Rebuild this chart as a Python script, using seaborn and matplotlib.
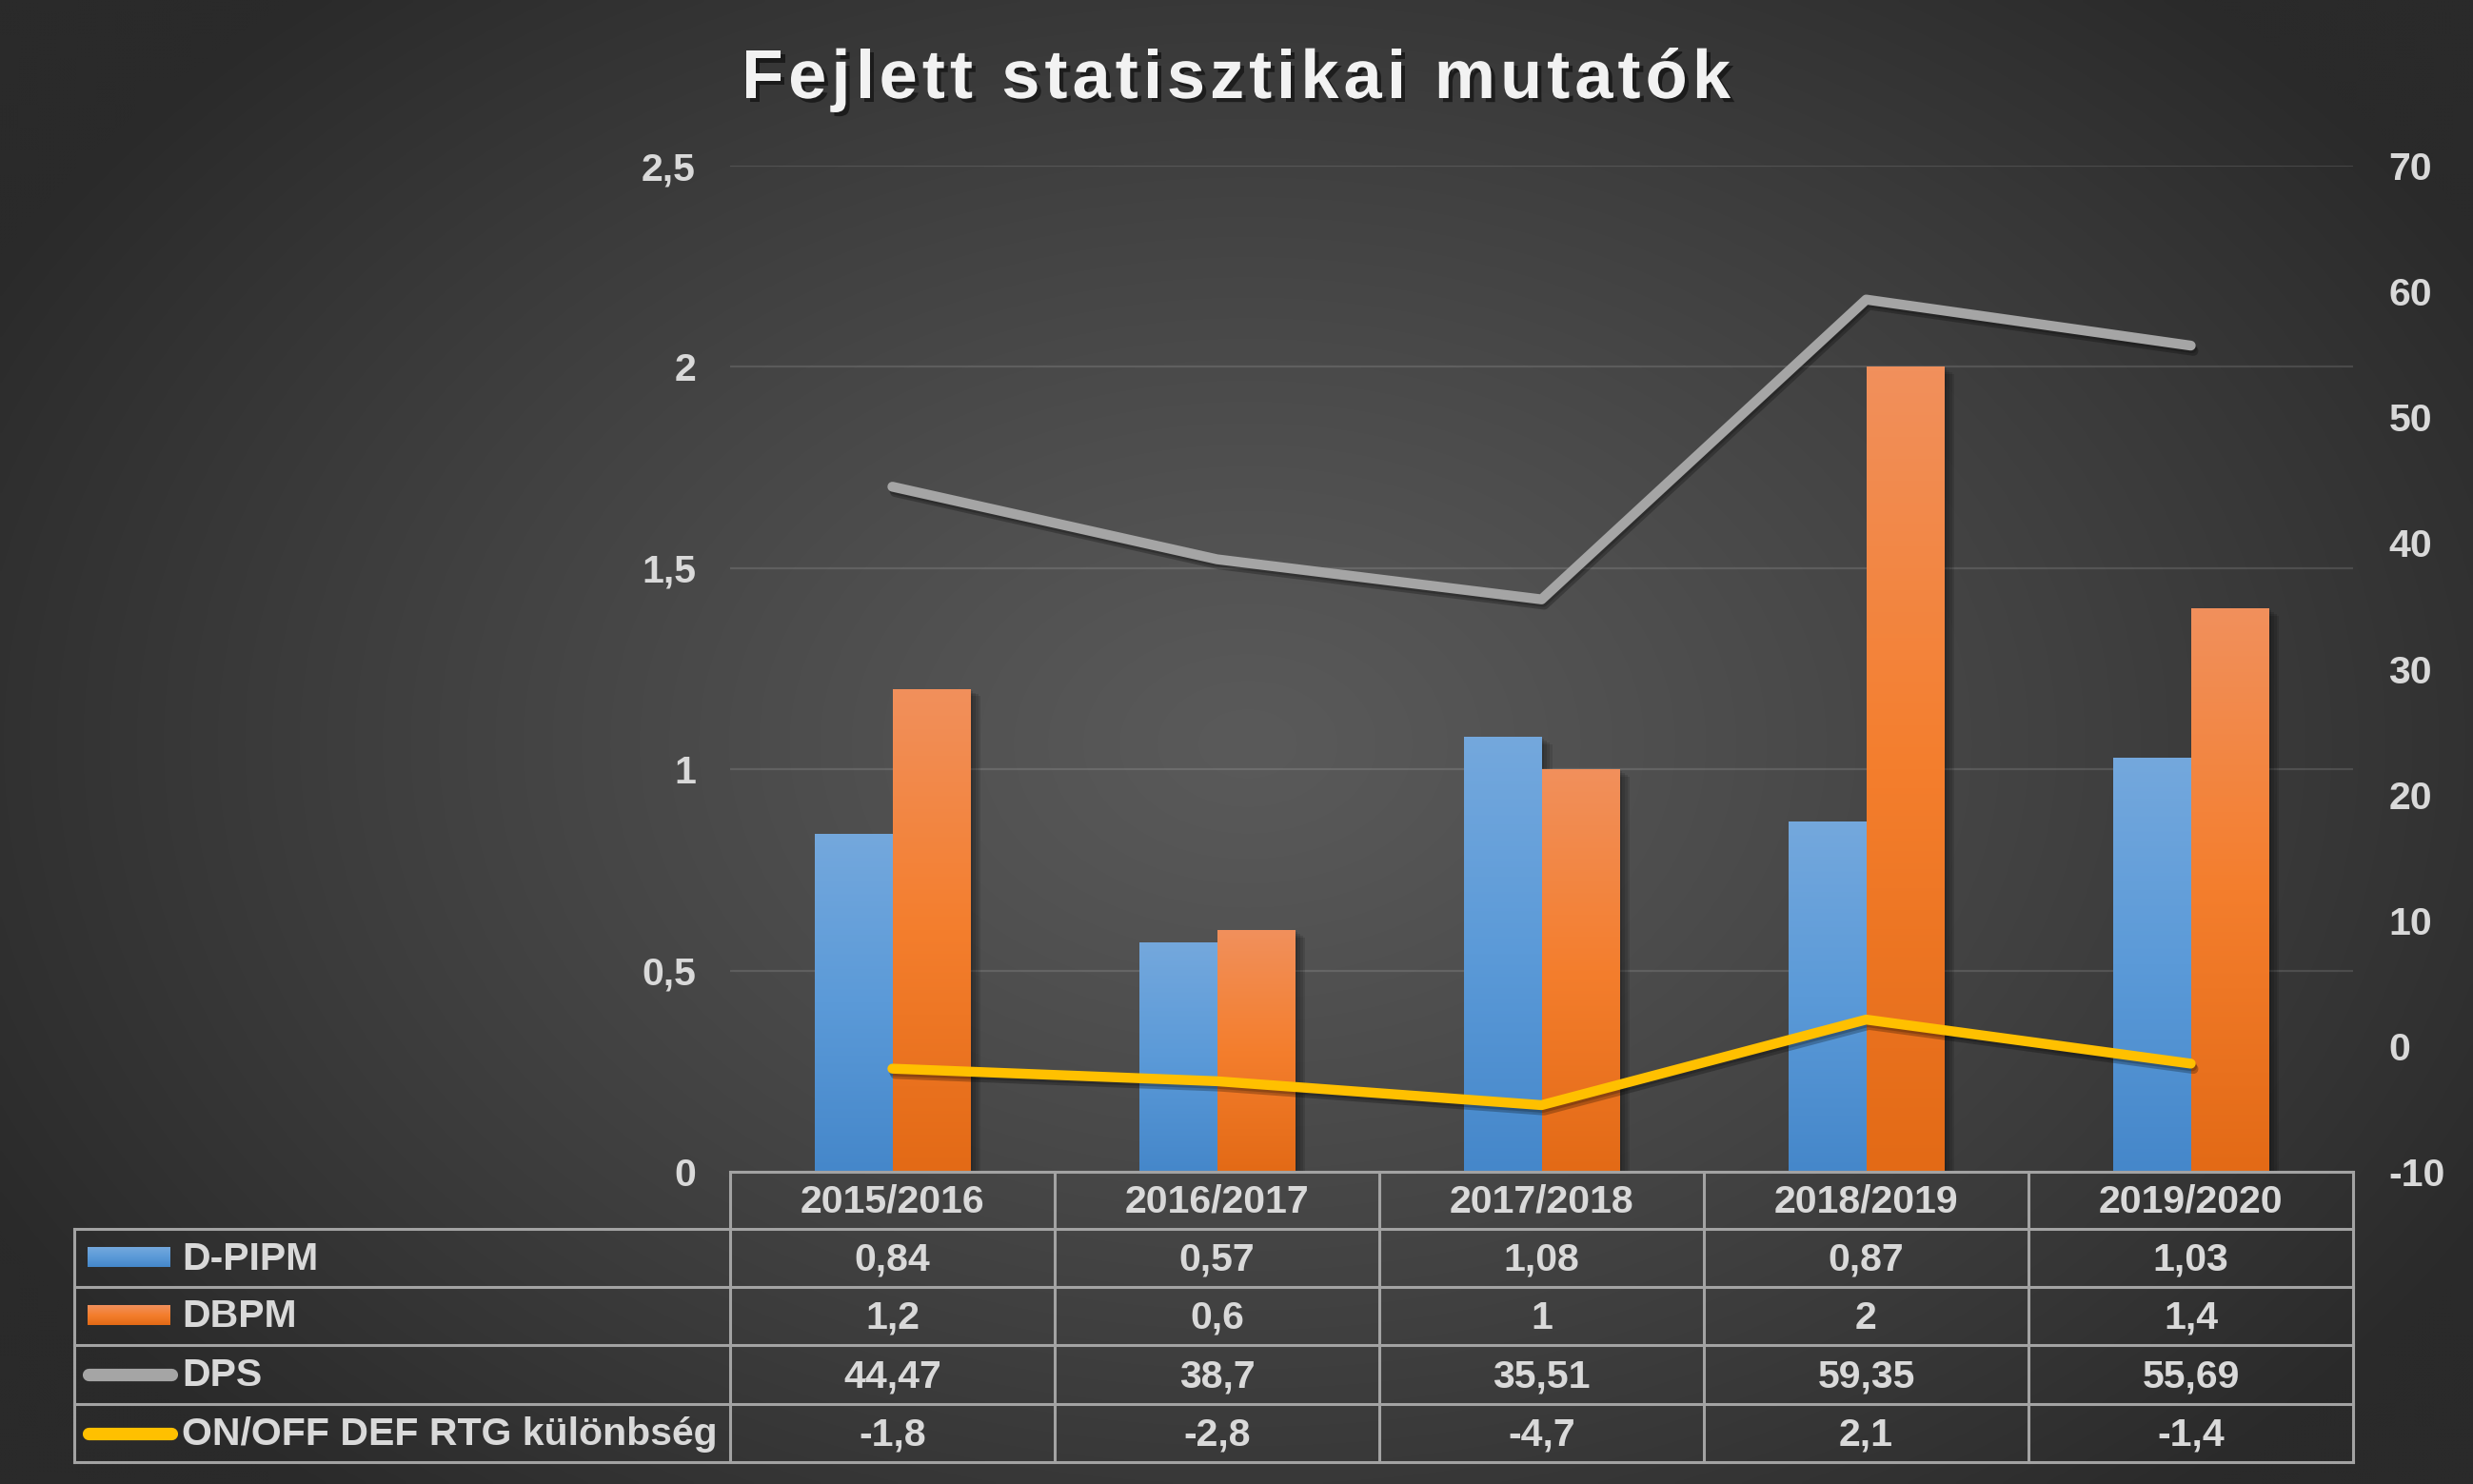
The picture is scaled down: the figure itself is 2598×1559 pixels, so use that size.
import numpy as np
import pandas as pd
import matplotlib
matplotlib.use("Agg")
import matplotlib.pyplot as plt
import matplotlib.patheffects as pe
from matplotlib.colors import LinearSegmentedColormap
from matplotlib.ticker import FuncFormatter, FixedLocator
import seaborn as sns

# ---------------- data ----------------
seasons = ["2015/2016", "2016/2017", "2017/2018", "2018/2019", "2019/2020"]
d_pipm = [0.84, 0.57, 1.08, 0.87, 1.03]
dbpm = [1.2, 0.6, 1, 2, 1.4]
dps = [44.47, 38.7, 35.51, 59.35, 55.69]
onoff = [-1.8, -2.8, -4.7, 2.1, -1.4]
series_names = ["D-PIPM", "DBPM", "DPS", "ON/OFF DEF RTG különbség"]
title_text = "Fejlett statisztikai mutatók"
left_ticks = [0, 0.5, 1, 1.5, 2, 2.5]
right_ticks = [-10, 0, 10, 20, 30, 40, 50, 60, 70]

# ---------------- style ----------------
sns.set_theme(style="white")
plt.rcParams["font.family"] = ["Liberation Sans", "DejaVu Sans"]
plt.rcParams["font.weight"] = "bold"

W, H = 2598, 1559
DPI = 100
fig = plt.figure(figsize=(W / DPI, H / DPI), dpi=DPI)

BLUE = "#5b9bd5"
ORANGE = "#ed7d31"
GRAY = "#a5a5a5"
YELLOW = "#ffc000"
TXT = "#d9d9d9"
TABLE_LINE = "#a3a3a3"
FS = 29.5

blue_cmap = LinearSegmentedColormap.from_list("b", ["#74a8dd", "#5b9ad8", "#4587ca"])
orange_cmap = LinearSegmentedColormap.from_list("o", ["#f1905c", "#f47e2d", "#e36a16"])

# ---------------- background ----------------
bg = fig.add_axes([0, 0, 1, 1], zorder=-10)
yy, xx = np.mgrid[0:H:4, 0:W:4]
r = np.sqrt(((xx - 1310) / 1500.0) ** 2 + ((yy - 780) / 1050.0) ** 2)
r = np.clip(r, 0, 1)
val = (90 - 48 * r ** 1.15) / 255.0
img = np.dstack([val, val, val])
bg.imshow(img, extent=[0, W, H, 0], aspect="auto", interpolation="bilinear")
bg.set_xlim(0, W)
bg.set_ylim(H, 0)
bg.axis("off")

# ---------------- layout ----------------
PL, PR, PT, PB = 767, 2472, 174, 1231  # plot area in px (top-left origin)
ax = fig.add_axes([PL / W, 1 - PB / H, (PR - PL) / W, (PB - PT) / H], zorder=1)
ax.patch.set_alpha(0)

pos = np.arange(len(seasons))
df = pd.DataFrame({
    "pos": np.concatenate([pos, pos]),
    "metric": [series_names[0]] * len(seasons) + [series_names[1]] * len(seasons),
    "value": d_pipm + dbpm,
})
sns.barplot(data=df, x="pos", y="value", hue="metric", palette=[BLUE, ORANGE],
            width=0.48, native_scale=True, saturation=1, errorbar=None,
            legend=False, ax=ax, zorder=2)

grad = np.linspace(0, 1, 256).reshape(-1, 1)
soft_shadow = [pe.withSimplePatchShadow(offset=(o, -0.7 * o), shadow_rgbFace="black", alpha=0.11)
               for o in (2, 4, 6, 8)]
for p in list(ax.patches):
    fc = p.get_facecolor()
    cmap = blue_cmap if fc[2] > fc[0] else orange_cmap
    x0, y0 = p.get_x(), p.get_y()
    w, h = p.get_width(), p.get_height()
    p.set_edgecolor("none")
    p.set_path_effects(soft_shadow)
    im = ax.imshow(grad, cmap=cmap, extent=[x0, x0 + w, y0, y0 + h], aspect="auto",
                   origin="upper", zorder=2.5, interpolation="bilinear")
    im.set_clip_path(p)

ax.set_xlim(-0.5, len(seasons) - 0.5)
ax.set_ylim(0, 2.5)
ax.yaxis.set_major_locator(FixedLocator(left_ticks))
ax.yaxis.set_major_formatter(FuncFormatter(lambda v, _: f"{v:g}".replace(".", ",")))
ax.set_xticks([])
ax.set_xlabel("")
ax.set_ylabel("")
ax.tick_params(axis="y", length=0, pad=26, labelsize=FS, labelcolor=TXT)
for s in ax.spines.values():
    s.set_visible(False)
ax.set_axisbelow(True)
ax.yaxis.grid(True, color="#ffffff", alpha=0.12, lw=1.6)

# ---------------- lines on secondary axis ----------------
ax2 = ax.twinx()
ax2.patch.set_alpha(0)
sns.lineplot(x=pos, y=dps, ax=ax2, color=GRAY, lw=7.5, legend=False)
sns.lineplot(x=pos, y=onoff, ax=ax2, color=YELLOW, lw=7.5, legend=False)
for ln in ax2.lines:
    ln.set_solid_capstyle("round")
    ln.set_solid_joinstyle("round")
    ln.set_path_effects([pe.SimpleLineShadow(offset=(2, -4), shadow_color="black", alpha=0.25),
                         pe.SimpleLineShadow(offset=(1, -2), shadow_color="black", alpha=0.2),
                         pe.Normal()])
ax2.set_ylim(-10, 70)
ax2.yaxis.set_major_locator(FixedLocator(right_ticks))
ax2.yaxis.set_major_formatter(FuncFormatter(lambda v, _: f"{v:g}"))
ax2.tick_params(axis="y", length=0, pad=27, labelsize=FS, labelcolor=TXT)
for t in ax2.get_yticklabels():
    t.set_horizontalalignment("left")
ax2.set_xlim(-0.5, len(seasons) - 0.5)
ax2.set_ylabel("")
ax2.grid(False)
for s in ax2.spines.values():
    s.set_visible(False)

# ---------------- data table ----------------
ov = fig.add_axes([0, 0, 1, 1], zorder=5)
ov.patch.set_alpha(0)
ov.set_xlim(0, W)
ov.set_ylim(H, 0)
ov.axis("off")

TL = 78
rows_y = [1231, 1291, 1352, 1413, 1475, 1536]
ncol = len(seasons)
colw = (PR - PL) / ncol
col_x = [PL + i * colw for i in range(ncol + 1)]
lkw = dict(color=TABLE_LINE, lw=2.2, solid_capstyle="projecting")
ov.plot([PL, PR], [rows_y[0], rows_y[0]], **lkw)
for yv in rows_y[1:]:
    ov.plot([TL, PR], [yv, yv], **lkw)
for xv in col_x:
    ov.plot([xv, xv], [rows_y[0], rows_y[-1]], **lkw)
ov.plot([TL, TL], [rows_y[1], rows_y[-1]], **lkw)

def fmt(v):
    return f"{v:g}".replace(".", ",")

tkw = dict(fontsize=FS, color=TXT, fontweight="bold", ha="center", va="baseline")
for i, s in enumerate(seasons):
    cx = (col_x[i] + col_x[i + 1]) / 2
    ov.text(cx, (rows_y[0] + rows_y[1]) / 2 + 13, s, **tkw)
    for j, ser in enumerate([d_pipm, dbpm, dps, onoff]):
        ov.text(cx, (rows_y[j + 1] + rows_y[j + 2]) / 2 + 13, fmt(ser[i]), **tkw)

# legend keys + labels
small_grad = np.linspace(0, 1, 64).reshape(-1, 1)
for j, cmap in enumerate([blue_cmap, orange_cmap]):
    mid = (rows_y[j + 1] + rows_y[j + 2]) / 2
    ov.imshow(small_grad, cmap=cmap, extent=[92, 179, mid + 10, mid - 11], aspect="auto",
              origin="upper", interpolation="bilinear")
for j, col in zip([2, 3], [GRAY, YELLOW]):
    mid = (rows_y[j + 1] + rows_y[j + 2]) / 2
    ov.plot([93, 180], [mid, mid], color=col, lw=9.5, solid_capstyle="round")
for j, name in enumerate(series_names):
    mid = (rows_y[j + 1] + rows_y[j + 2]) / 2
    ov.text(191, mid + 12, name, fontsize=FS, color=TXT, fontweight="bold",
            ha="left", va="baseline")
ov.set_xlim(0, W)
ov.set_ylim(H, 0)

# ---------------- title with letter spacing ----------------
renderer = fig.canvas.get_renderer()
title_kw = dict(fontsize=52, color="#f2f2f2", fontweight="bold")

def text_w(t):
    a = fig.text(0, 0, t + "|", **title_kw)
    wa = a.get_window_extent(renderer).width
    a.remove()
    b = fig.text(0, 0, "|", **title_kw)
    wb = b.get_window_extent(renderer).width
    b.remove()
    return wa - wb

tx0, tx1, tbase = 779, 1818, 103
natural = text_w(title_text)
spacing = (tx1 - tx0 - natural) / (len(title_text) - 1)
for i, ch in enumerate(title_text):
    if ch == " ":
        continue
    xpos = tx0 + text_w(title_text[:i]) + i * spacing
    fig.text(xpos / W, 1 - tbase / H, ch, ha="left", va="baseline",
             path_effects=[pe.withSimplePatchShadow(offset=(3, -3), shadow_rgbFace="black", alpha=0.5)],
             **title_kw)

fig.savefig("out.png", dpi=DPI)
